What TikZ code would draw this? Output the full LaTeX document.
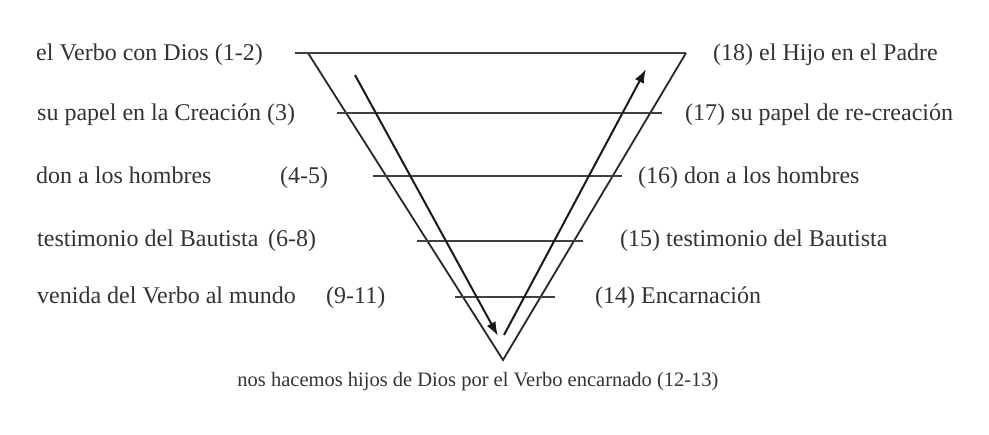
\documentclass[tikz,border=0pt]{standalone}
\usepackage{fontspec}
\setmainfont{Liberation Serif}
\usetikzlibrary{arrows.meta}
\begin{document}
\begin{tikzpicture}[x=1pt,y=-1pt,
  lbl/.style={inner sep=0pt, anchor=base west, font=\fontsize{24}{27}\selectfont, text=black!80},
  bottomlbl/.style={inner sep=0pt, anchor=center, font=\fontsize{20.5}{24}\selectfont, text=black!80},
  rung/.style={draw=black!75, line width=1.9pt},
  toprung/.style={draw=black!75, line width=2.4pt},
  side/.style={draw=black!85, line width=1.8pt, line join=miter},
  flow/.style={draw=black!90, line width=2pt, -{Latex[length=14pt,width=10pt]}}]
\useasboundingbox (0,0) rectangle (989,435);
% triangle
\coordinate (tl) at (308,53);
\coordinate (apex) at (503,360);
\coordinate (tr) at (686,53);
\draw[side] (tl) -- (apex) -- (tr);
% rungs
\coordinate (r1a) at (295,53);  \coordinate (r1b) at (686,53);
\coordinate (r2a) at (337,113); \coordinate (r2b) at (662,113);
\coordinate (r3a) at (373,176); \coordinate (r3b) at (622,176);
\coordinate (r4a) at (417,241); \coordinate (r4b) at (583,241);
\coordinate (r5a) at (455,297); \coordinate (r5b) at (555,297);
\draw[toprung] (r1a) -- (r1b);
\draw[rung] (r2a) -- (r2b);
\draw[rung] (r3a) -- (r3b);
\draw[rung] (r4a) -- (r4b);
\draw[rung] (r5a) -- (r5b);
% arrows
\coordinate (d1) at (355,75);  \coordinate (d2) at (498,336);
\coordinate (u1) at (504,335); \coordinate (u2) at (646,69);
\draw[flow] (d1) -- (d2);
\draw[flow] (u1) -- (u2);
% left labels
\node[lbl] (l1) at (36,61) {el Verbo con Dios (1-2)};
\node[lbl] (l2) at (37,121) {su papel en la Creación (3)};
\node[lbl] (l3) at (36,184) {don a los hombres};
\node[lbl] (l3n) at (280,184) {(4-5)};
\node[lbl] (l4) at (37,247) {testimonio del Bautista};
\node[lbl] (l4n) at (268,247) {(6-8)};
\node[lbl] (l5) at (37,304) {venida del Verbo al mundo};
\node[lbl] (l5n) at (326,304) {(9-11)};
% right labels
\node[lbl] (r1) at (713,61) {(18) el Hijo en el Padre};
\node[lbl] (r2) at (685,121) {(17) su papel de re-creación};
\node[lbl] (r3) at (638,184) {(16) don a los hombres};
\node[lbl] (r4) at (620,247) {(15) testimonio del Bautista};
\node[lbl] (r5) at (595,304) {(14) Encarnación};
% bottom
\node[bottomlbl] (b) at (478,382) {nos hacemos hijos de Dios por el Verbo encarnado (12-13)};
\end{tikzpicture}
\end{document}
